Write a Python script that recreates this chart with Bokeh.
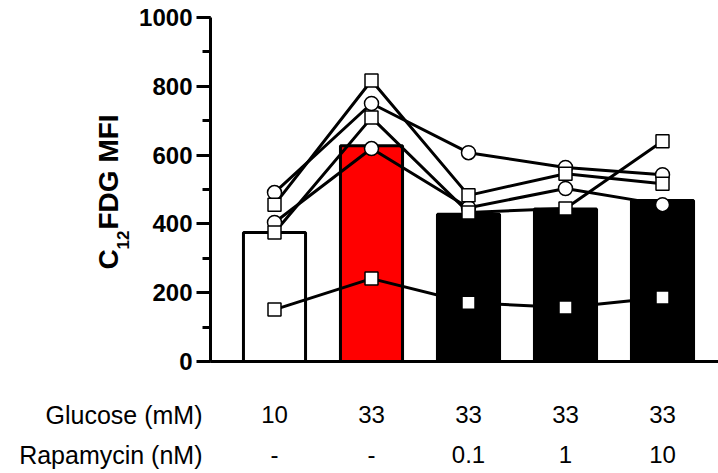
import math
from bokeh.plotting import figure
from bokeh.models import Range1d, SingleIntervalTicker, FixedTicker, Label
from bokeh.embed import file_html
from bokeh.resources import INLINE

# ---------------- data ----------------
categories = [1, 2, 3, 4, 5]
glucose_labels = ["10", "33", "33", "33", "33"]
rapamycin_labels = ["-", "-", "0.1", "1", "10"]
bar_means = [375, 627, 428, 443, 468]
bar_colors = ["white", "#FF0000", "black", "black", "black"]

donor_a = [491, 750, 607, 564, 543]   # circles
donor_c = [404, 619, 447, 503, 456]   # circles
donor_b = [456, 817, 483, 546, 517]   # squares
donor_d = [375, 709, 433, 445, 640]   # squares
donor_e = [151, 241, 171, 157, 186]   # squares

y_axis_bounds = (0, 1000)
y_ticks_interval = 200

# ---------------- layout (pixel geometry) ----------------
W, H = 718, 473
PX_PER_CAT = 97.0      # px between categories
X1_PX = 274.0          # image x of first category
PX_PER_Y = 0.344       # px per data unit
Y0_PX = 361.0          # image y of value 0
AXIS_X_PX = 210.0      # image x of the y axis

x_start = 1 - X1_PX / PX_PER_CAT
x_end = x_start + W / PX_PER_CAT
y_end = Y0_PX / PX_PER_Y
y_start = y_end - H / PX_PER_Y

def xd(px):
    return x_start + px / PX_PER_CAT

def yd(py):
    return y_end - py / PX_PER_Y

FONT = "Liberation Sans"

p = figure(width=W, height=H, output_backend="svg", toolbar_location=None,
           x_range=Range1d(x_start, x_end), y_range=Range1d(y_start, y_end),
           min_border_left=0, min_border_right=0, min_border_top=0,
           min_border_bottom=0)
p.outline_line_color = None
p.xgrid.visible = False
p.ygrid.visible = False
p.background_fill_color = "white"
p.border_fill_color = "white"

# y axis
ya = p.yaxis[0]
ya.fixed_location = xd(AXIS_X_PX)
ya.bounds = y_axis_bounds
ya.ticker = SingleIntervalTicker(interval=y_ticks_interval, num_minor_ticks=2)
ya.axis_line_width = 3
ya.axis_line_color = "black"
ya.major_tick_line_width = 3
ya.major_tick_line_color = "black"
ya.major_tick_out = 14
ya.major_tick_in = 0
ya.minor_tick_line_width = 3
ya.minor_tick_line_color = "black"
ya.minor_tick_out = 8
ya.minor_tick_in = 0
ya.major_label_text_font = FONT
ya.major_label_text_font_size = "24px"
ya.major_label_text_font_style = "bold"
ya.major_label_text_color = "black"
ya.major_label_standoff = 4

# x axis (baseline only)
xa = p.xaxis[0]
xa.fixed_location = 0
xa.bounds = (xd(AXIS_X_PX), x_end)
xa.ticker = FixedTicker(ticks=[])
xa.axis_line_width = 3
xa.axis_line_color = "black"
xa.major_tick_line_color = None
xa.minor_tick_line_color = None

# bars
p.vbar(x=categories, top=bar_means, width=0.64, bottom=0,
       fill_color=bar_colors, line_color="black", line_width=3)

# donor lines
for series in [donor_a, donor_c, donor_b, donor_d, donor_e]:
    p.line(categories, series, line_color="black", line_width=3)

# markers
for series in [donor_a, donor_c]:
    p.scatter(categories, series, marker="circle", size=14, fill_color="white",
              line_color="black", line_width=1.5)
for series in [donor_b, donor_d, donor_e]:
    p.scatter(categories, series, marker="square", size=13, fill_color="white",
              line_color="black", line_width=1.5)

# y-axis title with subscript
p.add_layout(Label(x=xd(108), y=yd(269), text="C", angle=math.pi / 2,
                   text_font=FONT, text_font_size="28px", text_font_style="bold",
                   text_align="left", text_baseline="alphabetic", text_color="black"))
p.add_layout(Label(x=xd(122), y=yd(249), text="12", angle=math.pi / 2,
                   text_font=FONT, text_font_size="17px", text_font_style="bold",
                   text_align="left", text_baseline="alphabetic", text_color="black"))
p.add_layout(Label(x=xd(108), y=yd(229), text="FDG MFI", angle=math.pi / 2,
                   text_font=FONT, text_font_size="28px", text_font_style="bold",
                   text_align="left", text_baseline="alphabetic", text_color="black"))

# condition table below the axis
rows = [("Glucose (mM)", glucose_labels, 414), ("Rapamycin (nM)", rapamycin_labels, 454)]
for title, labels, base in rows:
    p.add_layout(Label(x=xd(202), y=yd(base), text=title, text_font=FONT,
                       text_font_size="25px", text_align="right",
                       text_baseline="alphabetic", text_color="black"))
    for c, t in zip(categories, labels):
        p.add_layout(Label(x=c, y=yd(base), text=t, text_font=FONT,
                           text_font_size="24px", text_align="center",
                           text_baseline="alphabetic", text_color="black"))

open("out.html", "w").write(file_html(p, INLINE))
